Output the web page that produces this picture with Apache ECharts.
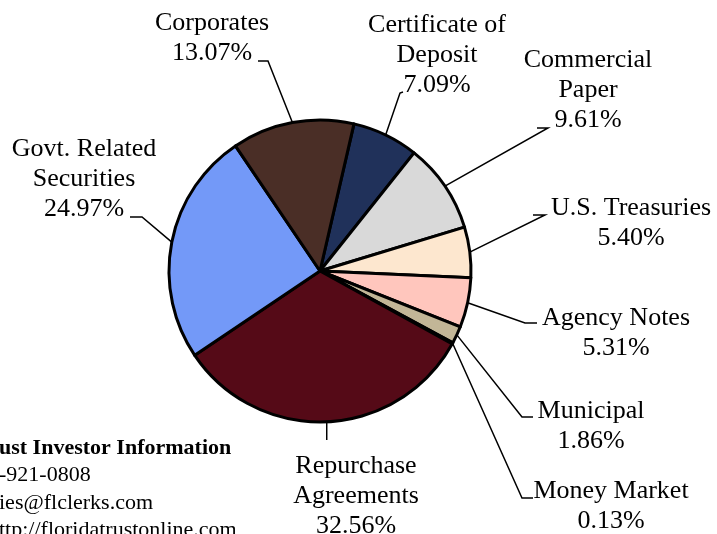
<!DOCTYPE html>
<html>
<head>
<meta charset="utf-8">
<script src="https://cdn.jsdelivr.net/npm/echarts@6/dist/echarts.min.js"></script>
<style>
  html, body { margin: 0; padding: 0; background: #fff; }
  #chart { width: 717px; height: 534px; }
</style>
</head>
<body>
<div id="chart"></div>
<script>
// Portfolio composition, in drawing order (clockwise from the top)
const sectors = ['Certificate of\nDeposit', 'Commercial\nPaper', 'U.S. Treasuries', 'Agency Notes',
                 'Municipal', 'Money Market', 'Repurchase\nAgreements', 'Govt. Related\nSecurities', 'Corporates'];
const shares = [7.09, 9.61, 5.40, 5.31, 1.86, 0.13, 32.56, 24.97, 13.07];
const sliceColors = ['#20315A', '#D9D9D9', '#FDE7CF', '#FFC6BD', '#C2B697', '#C2B697', '#550A17', '#7399F8', '#4A2E26'];

const infoLines = ['ust Investor Information', '-921-0808', 'ies@flclerks.com', 'ttp://floridatrustonline.com'];

// Where each label block sits and how its leader line bends (elbow, then end at the text)
const labelSpots = [
  { x: 437, y: 55, elbow: [400, 93], end: [403, 92] },
  { x: 588, y: 90, elbow: [548, 128], end: [537, 128] },
  { x: 631, y: 223, elbow: [545, 215], end: [533, 215] },
  { x: 616, y: 333, elbow: [525, 323], end: [537, 323] },
  { x: 591, y: 426, elbow: [522, 417], end: [533, 417] },
  { x: 611, y: 506, elbow: [522, 498], end: [533, 498] },
  { x: 356, y: 496, elbow: null, end: [null, 440] },
  { x: 84, y: 179, elbow: [142, 217], end: [130, 217] },
  { x: 212, y: 38, elbow: [268, 61], end: [258, 61] }
];

const chart = echarts.init(document.getElementById('chart'), null, { renderer: 'canvas' });

chart.setOption({
  backgroundColor: '#ffffff',
  animation: false,
  color: sliceColors,
  series: [{
    type: 'pie',
    center: [320, 271],
    radius: 151,
    startAngle: 77,
    clockwise: true,
    avoidLabelOverlap: false,
    itemStyle: { borderColor: '#000', borderWidth: 3 },
    label: {
      show: true,
      position: 'outside',
      color: '#000',
      fontFamily: 'Liberation Serif',
      fontSize: 26,
      lineHeight: 30,
      align: 'center',
      formatter: p => p.name + '\n' + p.value.toFixed(2) + '%'
    },
    labelLine: { show: true, length: 10, length2: 10, lineStyle: { color: '#000', width: 1.5 } },
    labelLayout: function (params) {
      const s = labelSpots[params.dataIndex];
      const start = params.labelLinePoints ? params.labelLinePoints[0] : [s.x, s.y];
      // a null elbow means the line drops straight down from the slice edge
      const end = s.end[0] == null ? [start[0], s.end[1]] : s.end;
      const elbow = s.elbow || end;
      return {
        x: s.x,
        y: s.y,
        align: 'center',
        verticalAlign: 'middle',
        labelLinePoints: [start, elbow, end]
      };
    },
    emphasis: { disabled: true },
    data: sectors.map((name, i) => ({ name: name, value: shares[i] }))
  }],
  graphic: infoLines.map((t, i) => ({
    type: 'text',
    left: -1,
    top: 437 + i * 27.5,
    style: {
      text: t,
      fill: '#000',
      font: (i === 0 ? 'bold ' : '') + '22px "Liberation Serif"'
    }
  }))
});
</script>
</body>
</html>
